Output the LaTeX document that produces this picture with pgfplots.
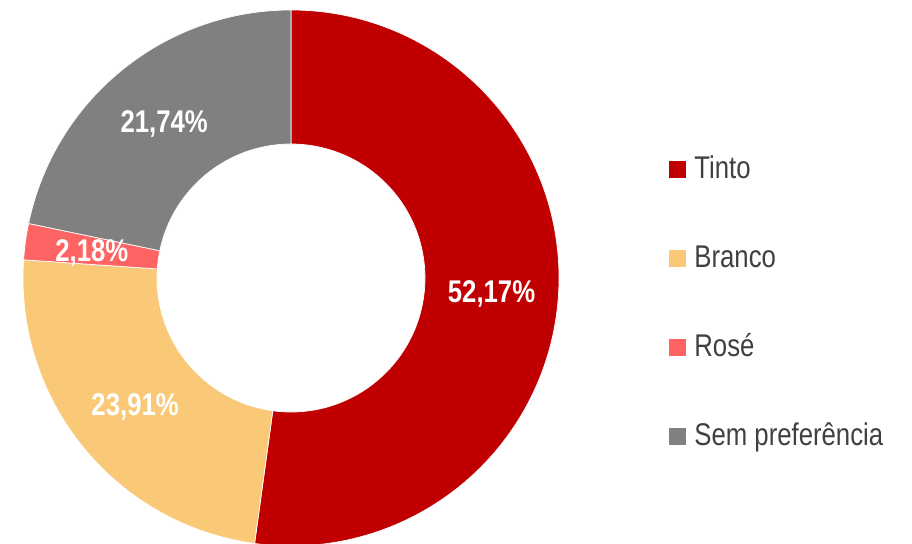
\documentclass[border=0pt]{standalone}
\usepackage{pgfplots}
\pgfplotsset{compat=1.18}
\usepackage{pgfplotstable}
\usepackage{fontspec}
\setmainfont{Liberation Sans}[FakeStretch=0.82]
\definecolor{tinto}{HTML}{C00000}
\definecolor{branco}{HTML}{FAC978}
\definecolor{rose}{HTML}{FF6464}
\definecolor{sem}{HTML}{808080}
\definecolor{legtext}{HTML}{404040}

\pgfplotstableread{
label value color
Tinto 52.17 tinto
Branco 23.91 branco
Rose 2.18 rose
Sem 21.74 sem
}\donut

\begin{document}
\begin{tikzpicture}
\path[use as bounding box] (0,0) rectangle (912bp,544bp);
\begin{axis}[
  at={(0,0)}, anchor=south west,
  width=912bp, height=544bp, scale only axis,
  xmin=0, xmax=912, ymin=0, ymax=544,
  hide axis, clip=false,
  legend cell align=left,
  legend style={draw=none, fill=none, at={(axis cs:669,388)}, anchor=north west,
    inner sep=0pt, outer sep=0pt, row sep=60bp, column sep=9bp,
    font=\fontsize{31.5}{38}\selectfont, text=legtext,
    nodes={inner sep=0pt, text height=22.5bp, text depth=6.5bp}},
]
\def\cx{291}\def\cy{266}\def\R{268}\def\r{134}
\def\start{90}
\pgfplotsforeachungrouped \i in {0,1,2,3}{%
  \pgfplotstablegetelem{\i}{value}\of\donut \let\v\pgfplotsretval
  \pgfplotstablegetelem{\i}{color}\of\donut \let\c\pgfplotsretval
  \pgfmathsetmacro\ea{\start-3.6*\v}
  \pgfmathsetmacro\xa{\cx+\R*cos(\start)}
  \pgfmathsetmacro\ya{\cy+\R*sin(\start)}
  \pgfmathsetmacro\xb{\cx+\r*cos(\ea)}
  \pgfmathsetmacro\yb{\cy+\r*sin(\ea)}
  \edef\temp{\noexpand\fill[\c, draw=white, line width=0.7bp, line join=round]
    (axis cs:\xa,\ya) arc[start angle=\start, end angle=\ea, radius=\R bp]
    -- (axis cs:\xb,\yb) arc[start angle=\ea, end angle=\start, radius=\r bp] -- cycle;}
  \temp
  \let\start\ea
}
\def\start{90}
\pgfplotsforeachungrouped \i in {0,1,2,3}{%
  \pgfplotstablegetelem{\i}{value}\of\donut \let\v\pgfplotsretval
  \pgfmathsetmacro\ea{\start-3.6*\v}
  \pgfmathsetmacro\ma{(\start+\ea)/2}
  \pgfmathsetmacro\xm{\cx+201*cos(\ma)}
  \pgfmathsetmacro\ym{\cy+201*sin(\ma)-2}
  \edef\temp{\noexpand\node[text=white, inner sep=0pt,
      font=\noexpand\bfseries\noexpand\fontsize{31.5}{38}\noexpand\selectfont]
    at (axis cs:\xm,\ym)
    {\noexpand\pgfmathprintnumber[fixed, fixed zerofill, precision=2, use comma, assume math mode=true]{\v}\noexpand\%};}
  \temp
  \let\start\ea
}
\addlegendimage{legend image code/.code={\fill[tinto] (0bp,-7bp) rectangle (16bp,9bp);}}
\addlegendentry{Tinto}
\addlegendimage{legend image code/.code={\fill[branco] (0bp,-7bp) rectangle (16bp,9bp);}}
\addlegendentry{Branco}
\addlegendimage{legend image code/.code={\fill[rose] (0bp,-7bp) rectangle (16bp,9bp);}}
\addlegendentry{Rosé}
\addlegendimage{legend image code/.code={\fill[sem] (0bp,-7bp) rectangle (16bp,9bp);}}
\addlegendentry{Sem preferência}
\end{axis}
\end{tikzpicture}
\end{document}
